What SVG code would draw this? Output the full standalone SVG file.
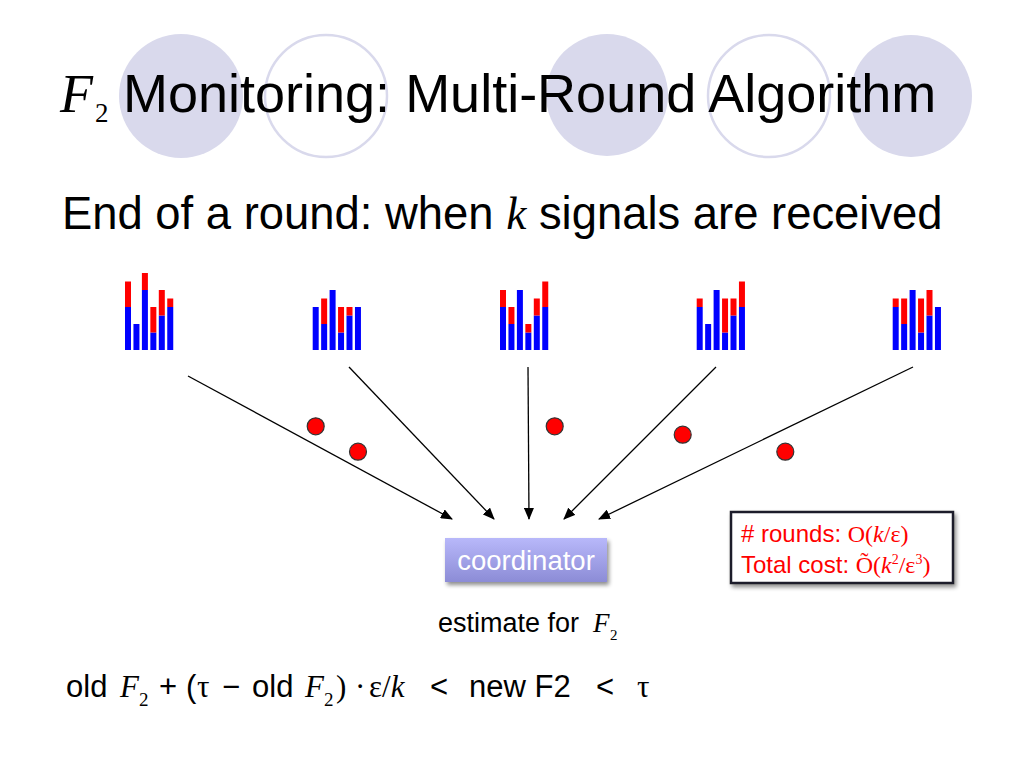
<svg xmlns="http://www.w3.org/2000/svg" width="1024" height="768" viewBox="0 0 1024 768">
<defs>
<style>
.sans{font-family:"Liberation Sans",Arial,sans-serif}
.serif{font-family:"Liberation Serif","Times New Roman",serif}
.it{font-style:italic}
.deco-f{fill:#d9d9ec}
.deco-o{fill:none;stroke:#d9d9ec;stroke-width:2.5}
.blue{fill:#0000ff}
.red{fill:#ff0000}
.conn{stroke:#000;stroke-width:1.3;fill:none;marker-end:url(#arr)}
.dot{fill:#ff0000;stroke:#333;stroke-width:1.2}
</style>
<marker id="arr" viewBox="0 0 12 10" refX="11" refY="5" markerWidth="12" markerHeight="10" markerUnits="userSpaceOnUse" orient="auto">
<path d="M0,0 L12,5 L0,10 Z" fill="#000"/>
</marker>
<linearGradient id="coordGrad" x1="0" y1="0" x2="0" y2="1">
<stop offset="0" stop-color="#b8b8fa"/>
<stop offset="1" stop-color="#8c8cd6"/>
</linearGradient>
<filter id="shadow" x="-10%" y="-10%" width="125%" height="140%">
<feGaussianBlur in="SourceAlpha" stdDeviation="2"/>
<feOffset dx="2" dy="3" result="o"/>
<feComponentTransfer><feFuncA type="linear" slope="0.45"/></feComponentTransfer>
<feMerge><feMergeNode/><feMergeNode in="SourceGraphic"/></feMerge>
</filter>
</defs>
<rect width="1024" height="768" fill="#fff"/>

<g id="decor">
<circle class="deco-f" cx="181" cy="96" r="62"/>
<circle class="deco-o" cx="326" cy="96" r="61"/>
<circle class="deco-f" cx="607" cy="95" r="61"/>
<circle class="deco-o" cx="769" cy="96" r="61"/>
<circle class="deco-f" cx="911" cy="96" r="61"/>
</g>

<g id="title">
<text x="60" y="112" class="serif it" font-size="54">F</text>
<text x="95" y="122" class="serif" font-size="27">2</text>
<text x="123" y="112" class="sans" font-size="54">Monitoring: Multi-Round Algorithm</text>
</g>

<g id="subtitle">
<text x="62" y="229" class="sans" font-size="45.4">End of a round: when <tspan class="serif it">k</tspan> signals are received</text>
</g>

<g id="site1" transform="translate(125,0)">
<rect class="blue" x="0" y="307" width="6" height="43"/><rect class="red" x="0" y="281.5" width="6" height="25.5"/>
<rect class="blue" x="8.45" y="324" width="6" height="26"/>
<rect class="blue" x="16.9" y="290" width="6" height="60"/><rect class="red" x="16.9" y="273" width="6" height="17"/>
<rect class="blue" x="25.35" y="332.5" width="6" height="17.5"/><rect class="red" x="25.35" y="307" width="6" height="25.5"/>
<rect class="blue" x="33.8" y="315.5" width="6" height="34.5"/><rect class="red" x="33.8" y="290" width="6" height="25.5"/>
<rect class="blue" x="42.25" y="307" width="6" height="43"/><rect class="red" x="42.25" y="298.5" width="6" height="8.5"/>
</g>

<g id="site2" transform="translate(312.7,0)">
<rect class="blue" x="0" y="307" width="6" height="43"/>
<rect class="blue" x="8.45" y="324" width="6" height="26"/><rect class="red" x="8.45" y="298.5" width="6" height="25.5"/>
<rect class="blue" x="16.9" y="290" width="6" height="60"/>
<rect class="blue" x="25.35" y="332.5" width="6" height="17.5"/><rect class="red" x="25.35" y="307" width="6" height="25.5"/>
<rect class="blue" x="33.8" y="315.5" width="6" height="34.5"/><rect class="red" x="33.8" y="307" width="6" height="8.5"/>
<rect class="blue" x="42.25" y="307" width="6" height="43"/>
</g>

<g id="site3" transform="translate(500,0)">
<rect class="blue" x="0" y="307" width="6" height="43"/><rect class="red" x="0" y="290" width="6" height="17"/>
<rect class="blue" x="8.45" y="324" width="6" height="26"/><rect class="red" x="8.45" y="307" width="6" height="17"/>
<rect class="blue" x="16.9" y="290" width="6" height="60"/>
<rect class="blue" x="25.35" y="332.5" width="6" height="17.5"/><rect class="red" x="25.35" y="324" width="6" height="8.5"/>
<rect class="blue" x="33.8" y="315.5" width="6" height="34.5"/><rect class="red" x="33.8" y="298.5" width="6" height="17"/>
<rect class="blue" x="42.25" y="307" width="6" height="43"/><rect class="red" x="42.25" y="281.5" width="6" height="25.5"/>
</g>

<g id="site4" transform="translate(696.7,0)">
<rect class="blue" x="0" y="307" width="6" height="43"/><rect class="red" x="0" y="298.5" width="6" height="8.5"/>
<rect class="blue" x="8.45" y="324" width="6" height="26"/>
<rect class="blue" x="16.9" y="290" width="6" height="60"/>
<rect class="blue" x="25.35" y="332.5" width="6" height="17.5"/><rect class="red" x="25.35" y="298.5" width="6" height="34"/>
<rect class="blue" x="33.8" y="315.5" width="6" height="34.5"/><rect class="red" x="33.8" y="298.5" width="6" height="17"/>
<rect class="blue" x="42.25" y="307" width="6" height="43"/><rect class="red" x="42.25" y="281.5" width="6" height="25.5"/>
</g>

<g id="site5" transform="translate(892.7,0)">
<rect class="blue" x="0" y="307" width="6" height="43"/><rect class="red" x="0" y="298.5" width="6" height="8.5"/>
<rect class="blue" x="8.45" y="324" width="6" height="26"/><rect class="red" x="8.45" y="298.5" width="6" height="25.5"/>
<rect class="blue" x="16.9" y="290" width="6" height="60"/>
<rect class="blue" x="25.35" y="332.5" width="6" height="17.5"/><rect class="red" x="25.35" y="298.5" width="6" height="34"/>
<rect class="blue" x="33.8" y="315.5" width="6" height="34.5"/><rect class="red" x="33.8" y="290" width="6" height="25.5"/>
<rect class="blue" x="42.25" y="307" width="6" height="43"/>
</g>

<g id="connectors">
<line class="conn" x1="188" y1="376" x2="452" y2="519"/>
<line class="conn" x1="349" y1="367" x2="494" y2="519"/>
<line class="conn" x1="528" y1="367" x2="529" y2="519"/>
<line class="conn" x1="716" y1="367" x2="564" y2="519"/>
<line class="conn" x1="913" y1="367" x2="599" y2="519"/>
</g>

<g id="signals">
<circle class="dot" cx="315.7" cy="426.3" r="8.5"/>
<circle class="dot" cx="358" cy="451.7" r="8.5"/>
<circle class="dot" cx="554.7" cy="426.3" r="8.5"/>
<circle class="dot" cx="682.7" cy="434.7" r="8.5"/>
<circle class="dot" cx="785.3" cy="451.7" r="8.5"/>
</g>

<g id="coordinator">
<rect x="445" y="538" width="162" height="44" fill="url(#coordGrad)" filter="url(#shadow)"/>
<text x="526" y="570" class="sans" font-size="27.5" fill="#fff" text-anchor="middle">coordinator</text>
</g>

<g id="estimate">
<text x="438" y="632" class="sans" font-size="27">estimate for</text>
<text x="593" y="632" class="serif it" font-size="27">F</text>
<text x="610" y="640" class="serif" font-size="15">2</text>
</g>

<g id="costbox">
<rect x="731" y="512" width="222" height="71" fill="#fff" stroke="#1a1a2a" stroke-width="2.5" filter="url(#shadow)"/>
<text x="741" y="542" class="sans" font-size="24" fill="#ff0000"># rounds: <tspan class="serif">O(</tspan><tspan class="serif it">k</tspan><tspan class="serif">/ε)</tspan></text>
<text x="741" y="573" class="sans" font-size="24" fill="#ff0000">Total cost: <tspan class="serif">Õ(</tspan><tspan class="serif it">k</tspan><tspan class="serif" font-size="14" dy="-9">2</tspan><tspan class="serif" dy="9">/ε</tspan><tspan class="serif" font-size="14" dy="-9">3</tspan><tspan class="serif" dy="9">)</tspan></text>
</g>

<g id="formula" font-size="31">
<text x="66" y="697" class="sans">old</text>
<text x="120" y="697" class="serif it">F</text>
<text x="139" y="706" class="serif" font-size="19">2</text>
<text x="159" y="697" class="sans">+</text>
<text x="186" y="697" class="sans">(</text>
<text x="197" y="697" class="serif">τ</text>
<text x="222" y="697" class="sans">−</text>
<text x="252" y="697" class="sans">old</text>
<text x="305" y="697" class="serif it">F</text>
<text x="324" y="706" class="serif" font-size="19">2</text>
<text x="336" y="697" class="serif">)</text>
<text x="355" y="697" class="serif">·</text>
<text x="369" y="697" class="serif">ε/<tspan class="it">k</tspan></text>
<text x="430" y="697" class="sans">&lt;</text>
<text x="469" y="697" class="sans">new F2</text>
<text x="596" y="697" class="sans">&lt;</text>
<text x="637" y="697" class="serif">τ</text>
</g>
</svg>
